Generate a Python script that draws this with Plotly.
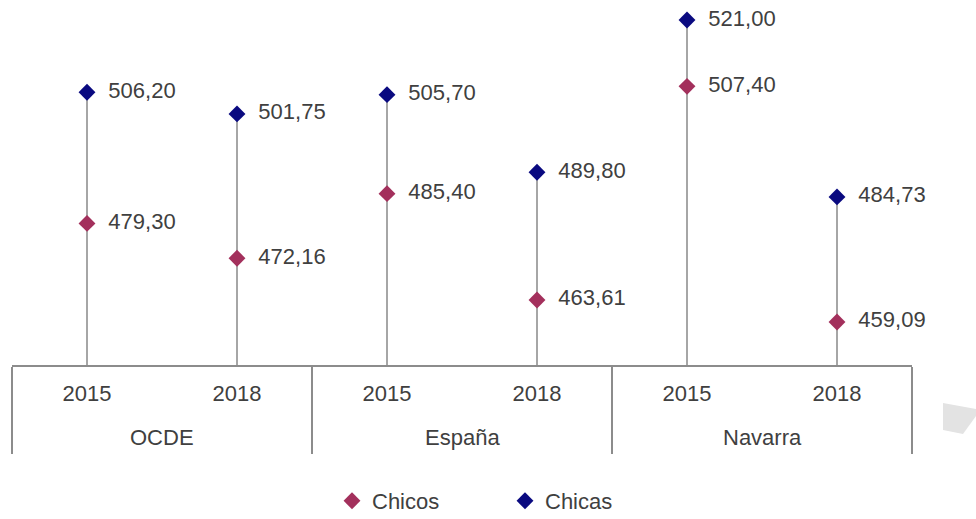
import plotly.graph_objects as go

# ---- data ----
groups = ["OCDE", "España", "Navarra"]
years = ["2015", "2018", "2015", "2018", "2015", "2018"]
chicos = [479.30, 472.16, 485.40, 463.61, 507.40, 459.09]
chicas = [506.20, 501.75, 505.70, 489.80, 521.00, 484.73]
series_names = ["Chicos", "Chicas"]

# ---- style ----
C_CHICOS = "#A3305C"
C_CHICAS = "#0A0A80"
C_TEXT = "#404040"
C_STEM = "#A6A6A6"
C_AXIS = "#8C8C8C"
FONT = "Arial, Liberation Sans, sans-serif"

W, H = 976, 519
PLOT_L, PLOT_R, PLOT_T, PLOT_B = 12, 912, 0, 365   # page pixels
ML = PLOT_L
MR = W - PLOT_R
MT = PLOT_T
MB = H - PLOT_B
pw, ph = W - ML - MR, H - MT - MB

Y_MIN, Y_MAX = 450.27, 525.1

def fmt(v):
    return "\u00a0\u00a0" + f"{v:.2f}".replace(".", ",")

def page_y_to_paper(yp):
    return (PLOT_B - yp) / ph

def page_x_to_paper(xp):
    return (xp - PLOT_L) / pw

xi = list(range(len(years)))
per_group = len(years) // len(groups)

fig = go.Figure()

# stems (from axis bottom up to the higher value)
fig.add_trace(go.Scatter(
    x=xi, y=chicas, mode="markers", showlegend=False, hoverinfo="skip",
    marker=dict(size=1, color="rgba(0,0,0,0)"),
    error_y=dict(type="data", symmetric=False,
                 array=[0] * len(chicas),
                 arrayminus=[v - Y_MIN for v in chicas],
                 color=C_STEM, thickness=2, width=0),
))

fig.add_trace(go.Scatter(
    x=xi, y=chicos, name=series_names[0], mode="markers+text",
    marker=dict(symbol="diamond", size=13, color=C_CHICOS),
    text=[fmt(v) for v in chicos], textposition="middle right",
    textfont=dict(family=FONT, size=22, color=C_TEXT), cliponaxis=False,
))
fig.add_trace(go.Scatter(
    x=xi, y=chicas, name=series_names[1], mode="markers+text",
    marker=dict(symbol="diamond", size=13, color=C_CHICAS),
    text=[fmt(v) for v in chicas], textposition="middle right",
    textfont=dict(family=FONT, size=22, color=C_TEXT), cliponaxis=False,
))

# group labels under the year labels
for gi, g in enumerate(groups):
    fig.add_annotation(x=gi * per_group + (per_group - 1) / 2, xref="x",
                       y=page_y_to_paper(437), yref="paper",
                       yanchor="middle", text=g, showarrow=False,
                       font=dict(family=FONT, size=22, color=C_TEXT))

# decorative grey fragment at bottom-right of the original image
pts = [(943, 403), (976, 409), (976, 416), (963, 434), (943, 430)]
path = "M " + " L ".join(f"{page_x_to_paper(a)},{page_y_to_paper(b)}"
                         for a, b in pts) + " Z"
fig.add_shape(type="path", xref="paper", yref="paper", path=path,
              fillcolor="#E3E3E3", line=dict(width=0), layer="below")

fig.update_layout(
    width=W, height=H,
    margin=dict(l=ML, r=MR, t=MT, b=MB, autoexpand=False),
    plot_bgcolor="white", paper_bgcolor="white",
    font=dict(family=FONT, size=22, color=C_TEXT),
    showlegend=True,
    legend=dict(orientation="h", x=page_x_to_paper(352 - 20), xanchor="left",
                y=page_y_to_paper(501), yanchor="middle",
                font=dict(family=FONT, size=22, color=C_TEXT),
                entrywidth=128, entrywidthmode="pixels", itemwidth=30,
                traceorder="normal"),
)
fig.update_xaxes(
    range=[-0.5, len(years) - 0.5], automargin=False,
    showline=True, linecolor=C_AXIS, linewidth=1.5,
    tickmode="array", tickvals=xi, ticktext=years, ticks="",
    ticklabelstandoff=8,
    tickfont=dict(family=FONT, size=22, color=C_TEXT),
    showgrid=False, zeroline=False,
    minor=dict(tick0=-0.5, dtick=per_group, ticks="outside", ticklen=87,
               tickwidth=1.5, tickcolor=C_AXIS, showgrid=False),
)
fig.update_yaxes(range=[Y_MIN, Y_MAX], visible=False, showgrid=False)

fig.write_html(
    "out.html",
    config={"displayModeBar": False},
    post_script="document.body.style.margin='0';document.body.style.overflow='hidden';",
)
